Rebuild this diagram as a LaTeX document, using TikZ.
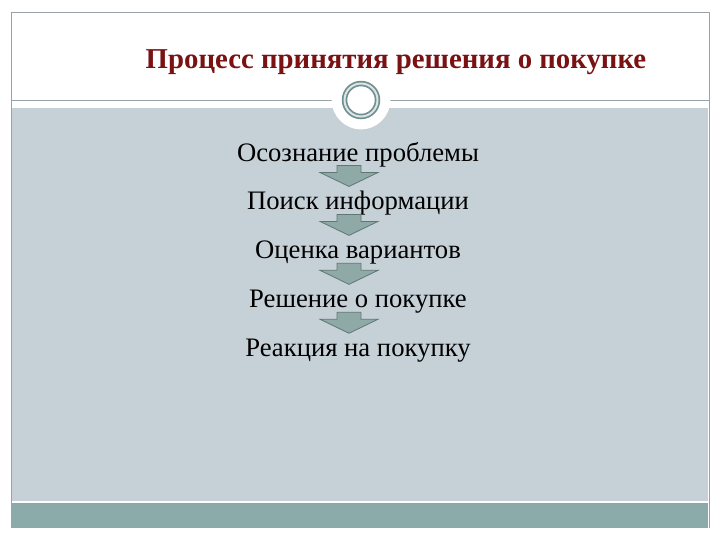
\documentclass[tikz,border=0pt]{standalone}
\usepackage{fontspec}
\setmainfont{Liberation Serif}
\usetikzlibrary{positioning,calc}
\definecolor{slidegray}{HTML}{C6D0D7}
\definecolor{slideteal}{HTML}{8AABAA}
\definecolor{frameline}{HTML}{97A3A5}
\definecolor{ringteal}{HTML}{6E908E}
\definecolor{titlered}{HTML}{7A1214}
\definecolor{arrowfill}{HTML}{8FAAA6}
\definecolor{arrowline}{HTML}{5F7775}
\tikzset{
  slidetitle/.style={font=\bfseries\fontsize{21.6}{26}\selectfont,text=titlered,inner sep=0pt},
  stage/.style={font=\fontsize{20}{24}\selectfont,inner sep=0pt,text height=14pt,text depth=4pt},
  flowarrow/.pic={
    \draw[fill=arrowfill,draw=arrowline,line width=0.6pt]
      (-12,-20) -- (12,-20) -- (12,-13) -- (29,-13) -- (0,1) -- (-29,-13) -- (-12,-13) -- cycle;
  },
}

\begin{document}
\begin{tikzpicture}[x=0.75pt,y=-0.75pt]
  \useasboundingbox[fill=white] (0,0) rectangle (720,540);
  \fill[slidegray] (12,108) rectangle (708,501);
  \fill[slideteal] (12,503) rectangle (708,528);
  \draw[frameline] (11,528) -- (11,12) -- (709,12) -- (709,528);
  \draw[frameline] (11,100) -- (709,100);
  \node[circle,fill=white,minimum size=44] (ring) at (361,100) {};
  \draw[ringteal,line width=1.3pt,double=slidegray!60,double distance=1.5pt] (ring.center) circle (16.5);

  \node[slidetitle] (title) at (396,62) {Процесс принятия решения о покупке};

  \node[stage,anchor=base] (s1) at (358,161) {Осознание проблемы};
  \node[stage,below=18.3pt of s1] (s2) {Поиск информации};
  \node[stage,below=18.3pt of s2] (s3) {Оценка вариантов};
  \node[stage,below=18.3pt of s3] (s4) {Решение о покупке};
  \node[stage,below=18.3pt of s4] (s5) {Реакция на покупку};

  \foreach \a/\b in {s1/s2,s2/s3,s3/s4,s4/s5}
    \pic at ($(\a.base)!0.5!(\b.base)+(-9,0)$) {flowarrow};
\end{tikzpicture}
\end{document}
